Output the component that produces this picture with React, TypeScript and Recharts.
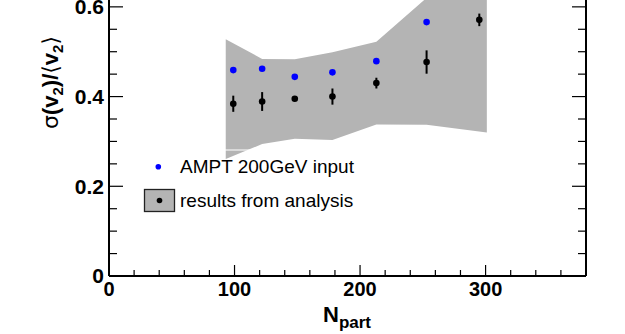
import { ComposedChart, Area, Scatter, ErrorBar, XAxis, YAxis } from 'recharts';

// centrality (N_part) of each analysed point
const nPart = [99, 122, 148, 178, 213, 253, 295];
const resultValues = [0.384, 0.389, 0.395, 0.4, 0.43, 0.477, 0.571];
const resultErrors = [0.018, 0.021, 0.005, 0.018, 0.012, 0.026, 0.014];

const amptN = [99, 122, 148, 178, 213, 253];
const amptValues = [0.459, 0.462, 0.444, 0.454, 0.479, 0.566];

// systematic band
const bandN = [93, 122, 148, 178, 213, 253, 301];
const bandLow = [0.261, 0.294, 0.306, 0.303, 0.338, 0.337, 0.32];
const bandHigh = [0.528, 0.484, 0.483, 0.499, 0.522, 0.62, 0.7];

const xTicks = [0, 20, 40, 60, 80, 100, 120, 140, 160, 180, 200, 220, 240, 260, 280, 300, 320, 340, 360, 380];
const xLabels = [0, 100, 200, 300];
const yTicks = [0, 0.05, 0.1, 0.15, 0.2, 0.25, 0.3, 0.35, 0.4, 0.45, 0.5, 0.55, 0.6, 0.65, 0.7];
const yLabels = [0, 0.2, 0.4, 0.6];

const FONT = '"Liberation Sans", Arial, Helvetica, sans-serif';

const bandData = bandN.map((n, i) => ({ n, range: [bandLow[i], bandHigh[i]] }));
const resultData = nPart.map((n, i) => ({ n, v: resultValues[i], e: resultErrors[i] }));
const amptData = amptN.map((n, i) => ({ n, v: amptValues[i] }));

const isMajor = (v: number, list: number[]) => list.some((m) => Math.abs(m - v) < 1e-6);

const BottomTick = (props: any) => {
    const { x, y, payload } = props;
    const major = isMajor(payload.value, xLabels);
    return (
        <g>
            <line x1={x} y1={y} x2={x} y2={y - (major ? 11 : 6)} stroke="#000" strokeWidth={1.2} />
            {major && (
                <text x={x} y={y + 20} textAnchor="middle" fontSize={20} fontWeight="bold" fontFamily={FONT} fill="#000">
                    {payload.value}
                </text>
            )}
        </g>
    );
};

const LeftTick = (props: any) => {
    const { x, y, payload } = props;
    const major = isMajor(payload.value, yLabels);
    return (
        <g>
            <line x1={x} y1={y} x2={x + (major ? 14 : 8)} y2={y} stroke="#000" strokeWidth={1.2} />
            {major && (
                <text x={x - 5} y={y + 7.3} textAnchor="end" fontSize={21} fontWeight="bold" fontFamily={FONT} fill="#000">
                    {payload.value}
                </text>
            )}
        </g>
    );
};

const RightTick = (props: any) => {
    const { x, y, payload } = props;
    const major = isMajor(payload.value, yLabels);
    return <line x1={x} y1={y} x2={x - (major ? 14 : 8)} y2={y} stroke="#000" strokeWidth={1.2} />;
};

const dot = (color: string) => (props: any) => <circle cx={props.cx} cy={props.cy} r={3.3} fill={color} />;

export default function App() {
    return (
        <>
            <div style={{ position: 'absolute', left: 0, top: -60, width: 625, height: 390 }}>
                <ComposedChart width={625} height={390} data={bandData} margin={{ top: 22, right: 38, bottom: 14, left: 49 }}>
                    <XAxis
                        type="number"
                        dataKey="n"
                        domain={[0, 380]}
                        ticks={xTicks}
                        interval={0}
                        height={40}
                        tickSize={0}
                        tickMargin={0}
                        tickLine={false}
                        tick={<BottomTick />}
                        axisLine={{ stroke: '#000', strokeWidth: 2 }}
                    />
                    <YAxis
                        type="number"
                        dataKey="v"
                        domain={[0, 0.7]}
                        allowDataOverflow
                        ticks={yTicks}
                        interval={0}
                        width={60}
                        tickSize={0}
                        tickMargin={0}
                        tickLine={false}
                        tick={<LeftTick />}
                        axisLine={{ stroke: '#000', strokeWidth: 2 }}
                    />
                    <YAxis
                        yAxisId="r"
                        orientation="right"
                        type="number"
                        domain={[0, 0.7]}
                        allowDataOverflow
                        ticks={yTicks}
                        interval={0}
                        width={1}
                        tickSize={0}
                        tickMargin={0}
                        tickLine={false}
                        tick={<RightTick />}
                        axisLine={{ stroke: '#000', strokeWidth: 2 }}
                    />
                    <Area type="linear" dataKey="range" fill="#b4b4b4" fillOpacity={1} stroke="none" isAnimationActive={false} />
                    <Scatter data={amptData} shape={dot('#0000ff')} isAnimationActive={false} />
                    <Scatter data={resultData} shape={dot('#000')} isAnimationActive={false}>
                        <ErrorBar dataKey="e" direction="y" width={0} stroke="#000" strokeWidth={2} />
                    </Scatter>
                </ComposedChart>
            </div>
            <svg
                width={625}
                height={334}
                style={{ position: 'absolute', left: 0, top: 0, pointerEvents: 'none' }}
                fontFamily={FONT}
            >
                {/* legend frame (white, only shows over the band) */}
                <rect x={140} y={150} width={250} height={70} fill="none" stroke="#fff" strokeWidth={1} />
                <circle cx={158.3} cy={166.7} r={2.8} fill="#0000ff" />
                <text x={180} y={173.3} fontSize={19} fill="#000">AMPT 200GeV input</text>
                <rect x={144.5} y={189.5} width={30} height={22} fill="#b4b4b4" stroke="#222" strokeWidth={1.3} />
                <circle cx={159.5} cy={200.5} r={2.8} fill="#000" />
                <text x={180} y={206.5} fontSize={19} fill="#000">results from analysis</text>

                <text transform="translate(58,82.5) rotate(-90)" textAnchor="middle" fontSize={22} fontWeight="bold" fill="#000">
                    <tspan fontWeight="normal" fontFamily="DejaVu Sans">σ</tspan>
                    <tspan>(v</tspan>
                    <tspan fontSize={15} dy={5}>2</tspan>
                    <tspan dy={-5}>)/</tspan>
                    <tspan fontWeight="normal" fontFamily="DejaVu Sans">⟨</tspan>
                    <tspan>v</tspan>
                    <tspan fontSize={15} dy={5}>2</tspan>
                    <tspan dy={-5} fontWeight="normal" fontFamily="DejaVu Sans">⟩</tspan>
                </text>

                <text x={323} y={321.7} fontSize={22} fontWeight="bold" fill="#000">
                    N<tspan fontSize={17} dy={6.3}>part</tspan>
                </text>
            </svg>
        </>
    );
}
